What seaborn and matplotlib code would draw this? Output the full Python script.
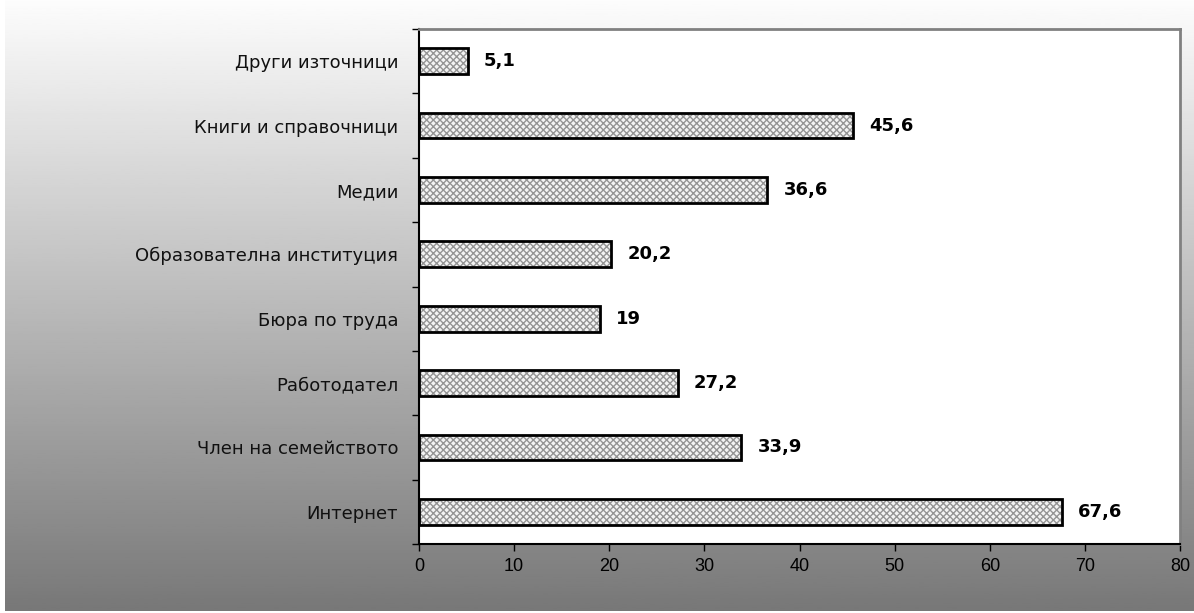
import numpy as np
import pandas as pd
import seaborn as sns
import matplotlib.pyplot as plt
from matplotlib.ticker import FixedLocator


categories = ['Други източници', 'Книги и справочници', 'Медии',
              'Образователна институция', 'Бюра по труда', 'Работодател',
              'Член на семейството', 'Интернет']
values = [5.1, 45.6, 36.6, 20.2, 19, 27.2, 33.9, 67.6]
value_labels = ['5,1', '45,6', '36,6', '20,2', '19', '27,2', '33,9', '67,6']
x_ticks = [0, 10, 20, 30, 40, 50, 60, 70, 80]


def main():
    sns.set_style('white')
    plt.rcParams['font.family'] = ['DejaVu Sans']
    plt.rcParams['text.color'] = 'black'
    plt.rcParams['xtick.color'] = 'black'
    plt.rcParams['ytick.color'] = 'black'
    plt.rcParams['hatch.linewidth'] = 1.0

    fig = plt.figure(figsize=(11.94, 6.13), dpi=100)
    fig.patch.set_facecolor('white')

    # gradient background, white at top to grey at bottom
    bg = fig.add_axes([5 / 1194, 2 / 613, 1 - 5 / 1194, 1 - 2 / 613])
    grad = np.linspace(0.99, 0.47, 256).reshape(-1, 1)
    bg.imshow(grad, aspect='auto', cmap='gray', vmin=0, vmax=1,
              extent=[0, 1, 0, 1])
    bg.set_axis_off()

    ax = fig.add_axes([419 / 1194, 1 - 544 / 613,
                       (1180 - 419) / 1194, (544 - 29) / 613])
    ax.set_facecolor('white')

    df = pd.DataFrame({'source': categories, 'share': values})
    # hatch layer (hatch takes the edge colour), then black outlines on top
    sns.barplot(data=df, x='share', y='source', orient='h', ax=ax,
                color='#f4f4f4', width=0.4, edgecolor='#959595', linewidth=0,
                hatch='xxxxx')
    sns.barplot(data=df, x='share', y='source', orient='h', ax=ax,
                fill=False, width=0.4, edgecolor='black', linewidth=2)

    for i, (v, lab) in enumerate(zip(values, value_labels)):
        ax.text(v + 1.7, i, lab, va='center', ha='left', fontsize=13,
                fontweight='bold', color='black')

    ax.set_xlim(0, 80)
    ax.set_ylim(len(categories) - 0.5, -0.5)
    ax.set_xticks(x_ticks)
    ax.set_xticklabels([str(t) for t in x_ticks], fontsize=13,
                       family=['Liberation Sans', 'DejaVu Sans'])
    ax.set_yticks(range(len(categories)))
    ax.set_yticklabels(categories, fontsize=13, color='#111111')
    ax.yaxis.set_minor_locator(FixedLocator(np.arange(-0.5, len(categories), 1)))
    ax.tick_params(axis='y', which='major', length=0, pad=15)
    ax.tick_params(axis='y', which='minor', length=5, width=1,
                   color='black', direction='out', left=True)
    ax.tick_params(axis='x', which='major', length=5, width=1,
                   color='black', direction='out', bottom=True, pad=5)
    ax.set_xlabel('')
    ax.set_ylabel('')

    for side in ['left', 'bottom']:
        ax.spines[side].set_color('black')
        ax.spines[side].set_linewidth(1.5)
    for side in ['top', 'right']:
        ax.spines[side].set_color('#808080')
        ax.spines[side].set_linewidth(2)
        ax.spines[side].set_visible(True)

    plt.savefig('out.png', dpi=100)


if __name__ == '__main__':
    main()
